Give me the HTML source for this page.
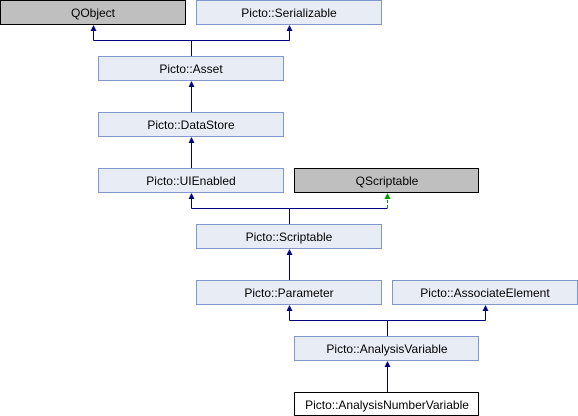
<!DOCTYPE html>
<html><head><style>body{margin:0;background:#fff}svg{display:block}text{font-family:"Liberation Sans",sans-serif;font-size:12px;text-anchor:middle}</style></head><body>
<svg width="578" height="416" viewBox="0 0 578 416">
<g fill="#e8ecf5" stroke="#7f97cb">
<rect x="0.5" y="0.5" width="185" height="24" fill="#bfbfbf" stroke="#000"/>
<rect x="196.5" y="0.5" width="185" height="24"/>
<rect x="98.5" y="56.5" width="185" height="24"/>
<rect x="98.5" y="112.5" width="185" height="24"/>
<rect x="98.5" y="168.5" width="185" height="24"/>
<rect x="294.5" y="168.5" width="184" height="24" fill="#bfbfbf" stroke="#000"/>
<rect x="196.5" y="224.5" width="185" height="24"/>
<rect x="196.5" y="280.5" width="185" height="24"/>
<rect x="392.5" y="280.5" width="185" height="24"/>
<rect x="294.5" y="336.5" width="184" height="24"/>
<rect x="294.5" y="392.5" width="184" height="23" fill="#fff" stroke="#000"/>
</g>
<g fill="none" stroke="#000080" stroke-width="1">
<path d="M191.5,56 V40.5 M93.5,40.5 H289.5 M93.5,40.5 V28 M289.5,40.5 V28"/>
<path d="M191.5,112 V84 M191.5,168 V140"/>
<path d="M289.5,224 V208.5 M191.5,208.5 H387.5 M191.5,208.5 V196"/>
<path d="M289.5,280 V252"/>
<path d="M387.5,336 V320.5 M289.5,320.5 H485.5 M289.5,320.5 V308 M485.5,320.5 V308"/>
<path d="M387.5,392 V364"/>
</g>
<g fill="#000080">
<path d="M93.5,25 L96.5,31 L90.5,31 Z"/>
<path d="M289.5,25 L292.5,31 L286.5,31 Z"/>
<path d="M191.5,81 L194.5,87 L188.5,87 Z"/>
<path d="M191.5,137 L194.5,143 L188.5,143 Z"/>
<path d="M191.5,193 L194.5,199 L188.5,199 Z"/>
<path d="M289.5,249 L292.5,255 L286.5,255 Z"/>
<path d="M289.5,305 L292.5,311 L286.5,311 Z"/>
<path d="M485.5,305 L488.5,311 L482.5,311 Z"/>
<path d="M387.5,361 L390.5,367 L384.5,367 Z"/>
</g>
<path d="M387.5,208 V196" stroke="#009900" stroke-dasharray="3,2" fill="none"/>
<path d="M387.5,193 L390.5,199 L384.5,199 Z" fill="#009900"/>
<g fill="#000">
<text x="93" y="17">QObject</text>
<text x="289" y="17">Picto::Serializable</text>
<text x="191" y="73">Picto::Asset</text>
<text x="191" y="129">Picto::DataStore</text>
<text x="191" y="185">Picto::UIEnabled</text>
<text x="387" y="185">QScriptable</text>
<text x="289" y="241">Picto::Scriptable</text>
<text x="289" y="297">Picto::Parameter</text>
<text x="485" y="297">Picto::AssociateElement</text>
<text x="387" y="353">Picto::AnalysisVariable</text>
<text x="387" y="409">Picto::AnalysisNumberVariable</text>
</g>
</svg>
</body></html>
